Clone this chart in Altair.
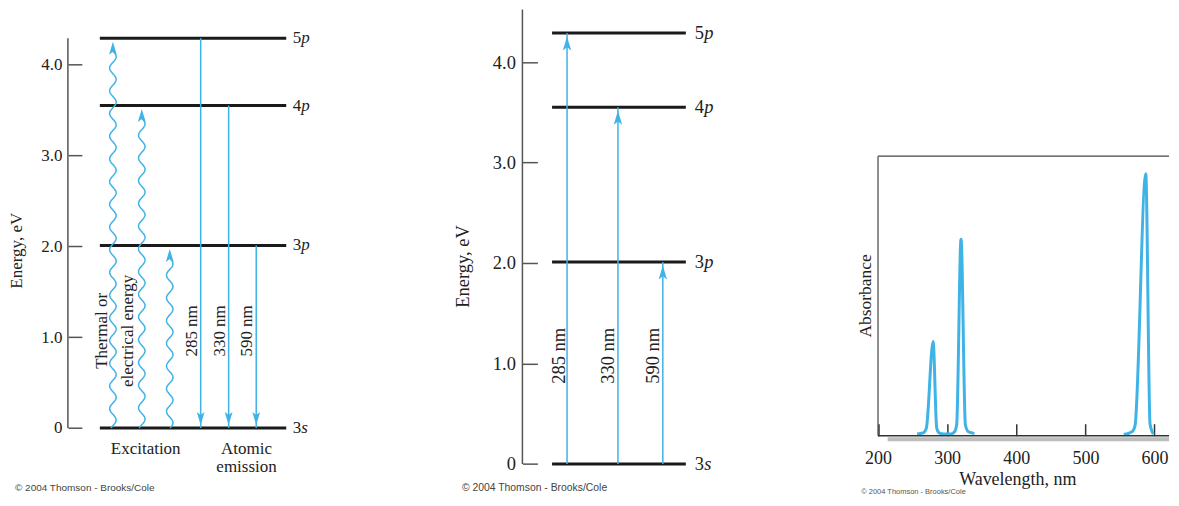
import altair as alt
import numpy as np
import pandas as pd

BLUE = "#3fb3e6"
INK = "#1a1a1a"
AXIS = "#555555"
TEXT = "#222222"
SERIF = "Liberation Serif"
SANS = "Liberation Sans"

# ---------------- data ----------------
level_digit = ["3", "3", "4", "5"]
level_letter = ["s", "p", "p", "p"]
level_energy = [0.0, 2.01, 3.55, 4.29]          # eV

line_labels = ["285 nm", "330 nm", "590 nm"]
line_upper = [4.29, 3.55, 2.01]                 # upper level of each transition

energy_ticks = [0, 1, 2, 3, 4]

# panel A columns (diagram units: level lines span 0..1)
a_wave_x = [0.07, 0.225, 0.375]
a_emit_x = [0.541, 0.691, 0.839]
a_nm_x = [0.495, 0.645, 0.79]
a_exc_text = ["Thermal or", "electrical energy"]
a_exc_x = [0.012, 0.149]
a_bottom_text = ["Excitation", "Atomic", "emission"]
a_bottom_x = [0.246, 0.787, 0.787]
a_bottom_y = [-0.23, -0.23, -0.432]

# panel B columns
b_abs_x = [0.112, 0.4925, 0.828]
b_nm_x = [0.049, 0.418, 0.754]

# panel C spectrum
spec_segment = [1] * 14 + [2] * 6
spec_wavelength = [256.6, 266.1, 270.0, 279.7, 284.9, 288.4, 295.0, 305.7, 310.5, 313.8,
                   320.1, 326.4, 330.7, 339.4, 555.5, 567.9, 571.8, 587.3, 593.5, 598.3]
spec_absorbance = [0.006, 0.011, 0.028, 0.337, 0.028, 0.010, 0.006, 0.006, 0.013, 0.039,
                   0.703, 0.039, 0.014, 0.008, 0.004, 0.015, 0.036, 0.937, 0.042, 0.006]
wl_ticks = [200, 300, 400, 500, 600]

COPYRIGHT = "\u00a9 2004 Thomson - Brooks/Cole"

# ---------------- helpers ----------------
UP = "M0,-1L0.6,1L0,0.55L-0.6,1Z"
DOWN = "M0,1L0.6,-1L0,-0.55L-0.6,-1Z"
H = 486


def row(**kw):
    return pd.DataFrame({k: [v] for k, v in kw.items()})


levels = pd.DataFrame({"x0": 0.0, "x1": 1.0, "e": level_energy,
                       "digit": level_digit, "letter": level_letter})


def wave_frame(xs, tops, amp, period, gap):
    # decorative wavy stroke for the "thermal or electrical energy" arrows;
    # the phase is set so that the stroke ends centred under its arrowhead
    rows = []
    for k, (x0, top) in enumerate(zip(xs, tops)):
        end = top - gap
        n = int(round(end / 0.01)) + 1
        ys = np.linspace(0.0, end, n)
        for i, y in enumerate(ys):
            rows.append({"id": k, "i": i,
                         "x": float(x0 + amp * np.sin(2 * np.pi * (end - y) / period)),
                         "e": float(y)})
    return pd.DataFrame(rows)


def energy_axis(offset, tick, pad, fs, tx, ty):
    return alt.Axis(values=energy_ticks,
                    labelExpr="datum.value == 0 ? '0' : format(datum.value, '.1f')",
                    domain=False, grid=False, ticks=True, tickSize=tick,
                    tickColor=AXIS, tickWidth=1.5, labelFont=SERIF, labelFontSize=fs,
                    labelColor=TEXT, labelPadding=pad, offset=offset, minExtent=0,
                    title="Energy, eV", titleFont=SERIF, titleFontSize=fs,
                    titleFontWeight="normal", titleColor=TEXT, titleAngle=270,
                    titleX=tx, titleY=ty, titleBaseline="middle", titleAlign="center")


class Panel:
    """Holds one panel's scales and axes; every layer gets the same axis spec."""

    def __init__(self, xs, ys, xaxis, yaxis):
        self.xs, self.ys, self.xaxis, self.yaxis = xs, ys, xaxis, yaxis

    def X(self, f):
        return alt.X(f"{f}:Q", scale=self.xs, axis=self.xaxis)

    def Y(self, f):
        return alt.Y(f"{f}:Q", scale=self.ys, axis=self.yaxis)


def level_layers(P, lx, fs, dx):
    base = alt.Chart(levels.assign(lx=lx))
    rules = base.mark_rule(color=INK, strokeWidth=3).encode(
        x=P.X("x0"), x2="x1:Q", y=P.Y("e"))
    dig = base.mark_text(font=SERIF, fontSize=fs, color=TEXT, align="left",
                         baseline="middle").encode(x=P.X("lx"), y=P.Y("e"), text="digit:N")
    let = base.mark_text(font=SERIF, fontSize=fs, color=TEXT, align="left",
                         baseline="middle", fontStyle="italic", dx=dx).encode(
        x=P.X("lx"), y=P.Y("e"), text="letter:N")
    return rules, dig, let


# ---------------- panel A ----------------
PA = Panel(alt.Scale(domain=[-0.4928, 1.821], nice=False, zero=False),
           alt.Scale(domain=[-0.733, 4.608], nice=False, zero=False),
           None, energy_axis(-74, 14, 6, 17, -65, 241.2))

wav = wave_frame(a_wave_x, line_upper, 0.0175, 0.25, 0.14)
a_waves = alt.Chart(wav).mark_line(color=BLUE, strokeWidth=1.5).encode(
    x=PA.X("x"), y=PA.Y("e"), detail="id:N", order="i:Q")
a_up = alt.Chart(pd.DataFrame({"x": a_wave_x, "e": line_upper})).mark_point(
    shape=UP, filled=True, size=169, color=BLUE, opacity=1, strokeWidth=0, yOffset=10
).encode(x=PA.X("x"), y=PA.Y("e"))

emit = pd.DataFrame({"x": a_emit_x, "e": line_upper, "g": level_energy[0]})
a_emit = alt.Chart(emit).mark_rule(color=BLUE, strokeWidth=1.5).encode(
    x=PA.X("x"), y=PA.Y("e"), y2="g:Q")
a_down = alt.Chart(emit).mark_point(
    shape=DOWN, filled=True, size=169, color=BLUE, opacity=1, strokeWidth=0, yOffset=-9.5
).encode(x=PA.X("x"), y=PA.Y("g"))

a_axisline = alt.Chart(row(x=-0.1714, e0=0.0, e1=level_energy[-1])).mark_rule(
    color=AXIS, strokeWidth=1.5).encode(x=PA.X("x"), y=PA.Y("e0"), y2="e1:Q")

a_nm = alt.Chart(pd.DataFrame({"t": line_labels, "x": a_nm_x, "y": 1.069})).mark_text(
    font=SERIF, fontSize=17, color=TEXT, angle=270, align="center", baseline="middle"
).encode(x=PA.X("x"), y=PA.Y("y"), text="t:N")
a_exc = alt.Chart(pd.DataFrame({"t": a_exc_text, "x": a_exc_x, "y": 1.069})).mark_text(
    font=SERIF, fontSize=17, color=TEXT, angle=270, align="center", baseline="middle"
).encode(x=PA.X("x"), y=PA.Y("y"), text="t:N")
a_bot = alt.Chart(pd.DataFrame({"t": a_bottom_text, "x": a_bottom_x, "y": a_bottom_y})).mark_text(
    font=SERIF, fontSize=17, color=TEXT, align="center", baseline="middle"
).encode(x=PA.X("x"), y=PA.Y("y"), text="t:N")
a_copy = alt.Chart(row(t=COPYRIGHT, x=-0.4553, y=-0.656)).mark_text(
    font=SANS, fontSize=10, color="#444444", align="left", baseline="middle"
).encode(x=PA.X("x"), y=PA.Y("y"), text="t:N")

lvA = level_layers(PA, 1.035, 17, 8.5)
panelA = alt.layer(lvA[0], a_waves, a_up, a_emit, a_down, a_axisline,
                   lvA[1], lvA[2], a_nm, a_exc, a_bot, a_copy).properties(width=432, height=H)

# ---------------- panel B ----------------
PB = Panel(alt.Scale(domain=[-0.8433, 2.1418], nice=False, zero=False),
           alt.Scale(domain=[-0.305, 4.524], nice=False, zero=False),
           None, energy_axis(-98.3, 15, 7, 18.5, -74.6, 257))

absn = pd.DataFrame({"x": b_abs_x, "e": line_upper, "g": level_energy[0]})
b_rules = alt.Chart(absn).mark_rule(color=BLUE, strokeWidth=1.5).encode(
    x=PB.X("x"), y=PB.Y("g"), y2="e:Q")
b_up = alt.Chart(absn).mark_point(
    shape=UP, filled=True, size=196, color=BLUE, opacity=1, strokeWidth=0, yOffset=10.5
).encode(x=PB.X("x"), y=PB.Y("e"))
b_axisline = alt.Chart(row(x=-0.2216, e0=0.0, e1=4.524)).mark_rule(
    color=AXIS, strokeWidth=1.5).encode(x=PB.X("x"), y=PB.Y("e0"), y2="e1:Q")
b_nm = alt.Chart(pd.DataFrame({"t": line_labels, "x": b_nm_x, "y": 1.076})).mark_text(
    font=SERIF, fontSize=18.5, color=TEXT, angle=270, align="center", baseline="middle"
).encode(x=PB.X("x"), y=PB.Y("y"), text="t:N")
b_copy = alt.Chart(row(t=COPYRIGHT, x=-0.674, y=-0.2404)).mark_text(
    font=SANS, fontSize=10.4, color="#444444", align="left", baseline="middle"
).encode(x=PB.X("x"), y=PB.Y("y"), text="t:N")

lvB = level_layers(PB, 1.067, 18.5, 9.5)
panelB = alt.layer(lvB[0], b_rules, b_up, b_axisline, lvB[1], lvB[2], b_nm, b_copy).properties(
    width=400, height=H)

# ---------------- panel C ----------------
WL_MIN, WL_MAX = 142.96, 620.94
x_axis = alt.Axis(values=wl_ticks, format="d", domain=False, grid=False, tickSize=12,
                  tickColor="#333333", tickWidth=1.5, labelFont=SERIF, labelFontSize=18,
                  labelColor=TEXT, labelPadding=13.5, labelFlush=False, offset=-71,
                  minExtent=0, title="Wavelength, nm", titleFont=SERIF, titleFontSize=18,
                  titleFontWeight="normal", titleColor=TEXT, titleX=179, titleY=55.5,
                  titleBaseline="middle", titleAlign="center")
PC = Panel(alt.Scale(domain=[WL_MIN, WL_MAX], nice=False, zero=False),
           alt.Scale(domain=[-0.2107, 1.525], nice=False, zero=False),
           x_axis, None)

spec = pd.DataFrame({"seg": spec_segment, "wl": spec_wavelength, "a": spec_absorbance})
c_line = alt.Chart(spec).mark_line(color=BLUE, strokeWidth=3, interpolate="monotone").encode(
    x=PC.X("wl"), y=PC.Y("a"), detail="seg:N")
c_shadow = alt.Chart(row(x0=214.0, x1=WL_MAX, y=-0.0125)).mark_rule(
    color="#bdbdbd", strokeWidth=4).encode(x=PC.X("x0"), x2="x1:Q", y=PC.Y("y"))
c_top = alt.Chart(row(x0=200.0, x1=WL_MAX, y=1.0)).mark_rule(
    color="#444444", strokeWidth=1.2).encode(x=PC.X("x0"), x2="x1:Q", y=PC.Y("y"))
c_left = alt.Chart(row(x=200.0, y0=0.0, y1=1.0)).mark_rule(
    color="#444444", strokeWidth=1.2).encode(x=PC.X("x"), y=PC.Y("y0"), y2="y1:Q")
c_bottom = alt.Chart(row(x0=200.0, x1=WL_MAX, y=0.0)).mark_rule(
    color="#333333", strokeWidth=1.6).encode(x=PC.X("x0"), x2="x1:Q", y=PC.Y("y"))
c_ytitle = alt.Chart(row(t="Absorbance", x=182.7, y=0.5)).mark_text(
    font=SERIF, fontSize=17.5, color=TEXT, angle=270, align="center", baseline="middle"
).encode(x=PC.X("x"), y=PC.Y("y"), text="t:N")
c_copy = alt.Chart(row(t=COPYRIGHT, x=175.7, y=-0.2)).mark_text(
    font=SANS, fontSize=7.5, color="#555555", align="left", baseline="middle"
).encode(x=PC.X("x"), y=PC.Y("y"), text="t:N")

panelC = alt.layer(c_line, c_shadow, c_top, c_left, c_bottom, c_ytitle, c_copy).properties(
    width=331, height=H)

chart = alt.hconcat(panelA, panelB, panelC, spacing=0).properties(
    padding=0).configure_view(stroke=None)

chart.save("out.html", embed_options={"renderer": "svg", "actions": False})
